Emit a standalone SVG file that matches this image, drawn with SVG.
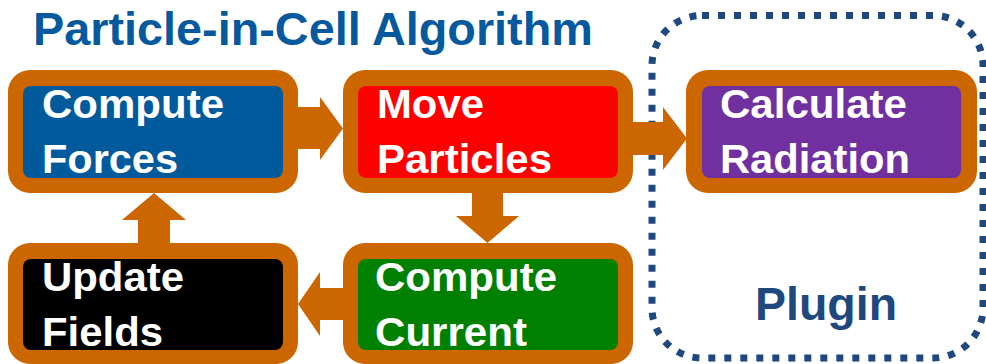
<svg xmlns="http://www.w3.org/2000/svg" width="986" height="364" viewBox="0 0 986 364">
<style>
.outer{fill:#CC6600}
.lbl{font-family:"Liberation Sans",Arial,sans-serif;font-weight:bold;font-size:40px;fill:#fff}
.arrow{fill:#CC6600}
</style>
<rect width="986" height="364" fill="#fff"/>
<text x="33" y="45" font-family="Liberation Sans, Arial, sans-serif" font-weight="bold" font-size="46.8" fill="#07599E">Particle-in-Cell Algorithm</text>
<g id="plugin">
<rect x="652" y="15.5" width="331" height="342.5" rx="50" fill="none" stroke="#1F497D" stroke-width="7" stroke-dasharray="7 9"/>
<text x="755" y="320" font-family="Liberation Sans, Arial, sans-serif" font-weight="bold" font-size="46.5" fill="#1F497D">Plugin</text>
</g>
<g id="connectors">
<polygon class="arrow" points="296,107 320,107 320,97 343,128.5 320,160 320,149 296,149"/>
<polygon class="arrow" points="631,122 663,122 663,107 687,138.5 663,170 663,155 631,155"/>
<polygon class="arrow" points="472,191 503,191 503,216 519,216 487.5,243 456,216 472,216"/>
<polygon class="arrow" points="345,288 320,288 320,272 298,304 320,336 320,320 345,320"/>
<polygon class="arrow" points="138,245 170,245 170,220 186,220 154,193 122,220 138,220"/>
</g>
<g id="compute-forces">
<rect class="outer" x="8" y="70" width="290" height="123" rx="22"/>
<rect x="23" y="86" width="260" height="92" rx="8" fill="#005A9C"/>
<text class="lbl" x="42" y="118" textLength="182" lengthAdjust="spacingAndGlyphs">Compute</text>
<text class="lbl" x="42" y="173" textLength="136" lengthAdjust="spacingAndGlyphs">Forces</text>
</g>
<g id="move-particles">
<rect class="outer" x="343" y="70" width="290" height="123" rx="22"/>
<rect x="358" y="86" width="260" height="92" rx="8" fill="#FF0000"/>
<text class="lbl" x="377" y="118" textLength="107" lengthAdjust="spacingAndGlyphs">Move</text>
<text class="lbl" x="377" y="173" textLength="175" lengthAdjust="spacingAndGlyphs">Particles</text>
</g>
<g id="calculate-radiation">
<rect class="outer" x="686" y="70" width="291" height="123" rx="22"/>
<rect x="702" y="86" width="259" height="92" rx="8" fill="#7030A0"/>
<text class="lbl" x="720" y="118" textLength="187" lengthAdjust="spacingAndGlyphs">Calculate</text>
<text class="lbl" x="720" y="173" textLength="190" lengthAdjust="spacingAndGlyphs">Radiation</text>
</g>
<g id="update-fields">
<rect class="outer" x="8" y="243" width="290" height="121" rx="22"/>
<rect x="23" y="259" width="260" height="91" rx="8" fill="#000"/>
<text class="lbl" x="42" y="291" textLength="142" lengthAdjust="spacingAndGlyphs">Update</text>
<text class="lbl" x="42" y="346" textLength="121" lengthAdjust="spacingAndGlyphs">Fields</text>
</g>
<g id="compute-current">
<rect class="outer" x="343" y="243" width="290" height="121" rx="22"/>
<rect x="358" y="259" width="260" height="91" rx="8" fill="#008000"/>
<text class="lbl" x="375" y="291" textLength="182" lengthAdjust="spacingAndGlyphs">Compute</text>
<text class="lbl" x="375" y="346" textLength="152" lengthAdjust="spacingAndGlyphs">Current</text>
</g>
</svg>
